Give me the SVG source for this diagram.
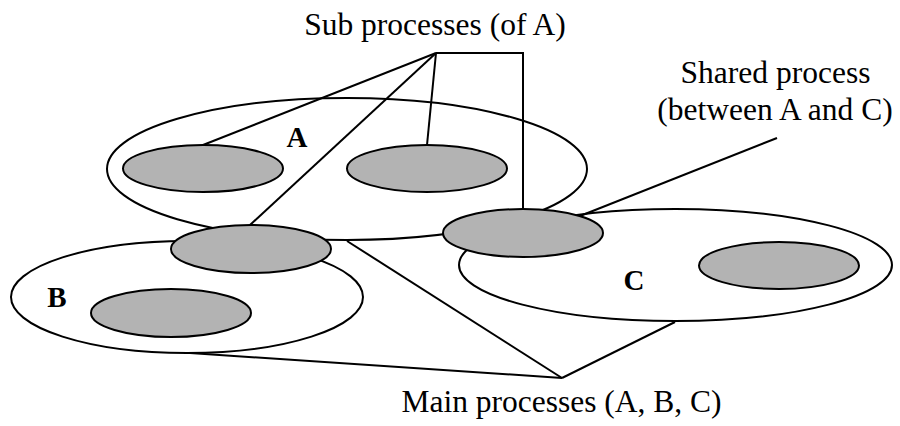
<svg xmlns="http://www.w3.org/2000/svg" width="900" height="426" viewBox="0 0 900 426">
<style>
.big{fill:#ffffff;stroke:#000;stroke-width:2}
.sub{fill:#b3b3b3;stroke:#000;stroke-width:2}
.ln{fill:none;stroke:#000;stroke-width:2}
.t{font-size:31.5px;fill:#000;text-anchor:middle}
.lb{font-size:29px;font-weight:bold;fill:#000;text-anchor:middle}
</style>
<rect width="900" height="426" fill="#ffffff"/>
<g id="mainA"><ellipse class="big" cx="347" cy="169" rx="240" ry="71"/></g>
<g id="mainB"><ellipse class="big" cx="187" cy="297" rx="176" ry="56"/></g>
<g id="mainC"><ellipse class="big" cx="675.5" cy="265" rx="216.5" ry="56"/></g>
<g id="connectors">
<line class="ln" x1="436" y1="53" x2="203" y2="145"/>
<line class="ln" x1="436" y1="53" x2="250" y2="225"/>
<line class="ln" x1="436" y1="53" x2="427" y2="145"/>
<polyline class="ln" points="436,53 523,53 523,209"/>
<line class="ln" x1="777" y1="138" x2="580" y2="216"/>
<line class="ln" x1="347" y1="241" x2="562" y2="378"/>
<line class="ln" x1="190" y1="353" x2="562" y2="378"/>
<line class="ln" x1="675" y1="322" x2="562" y2="378"/>
</g>
<g id="subA1"><ellipse class="sub" cx="203" cy="168.5" rx="80" ry="23.5"/></g>
<g id="subA2"><ellipse class="sub" cx="427" cy="168.5" rx="80" ry="23.5"/></g>
<g id="sharedAB"><ellipse class="sub" cx="251" cy="249" rx="80" ry="24"/></g>
<g id="sharedAC"><ellipse class="sub" cx="523" cy="233" rx="80" ry="24"/></g>
<g id="subB"><ellipse class="sub" cx="171" cy="313" rx="80" ry="24"/></g>
<g id="subC"><ellipse class="sub" cx="779" cy="265.5" rx="80" ry="23.5"/></g>
<g id="labels" font-family="'Liberation Serif', 'Times New Roman', Times, serif">
<text class="lb" x="297" y="147">A</text>
<text class="lb" x="57" y="307">B</text>
<text class="lb" x="634" y="290">C</text>
<text class="t" x="435" y="35">Sub processes (of A)</text>
<text class="t" x="775.5" y="83">Shared process</text>
<text class="t" x="775" y="120">(between A and C)</text>
<text class="t" x="561.5" y="412">Main processes (A, B, C)</text>
</g>
</svg>
